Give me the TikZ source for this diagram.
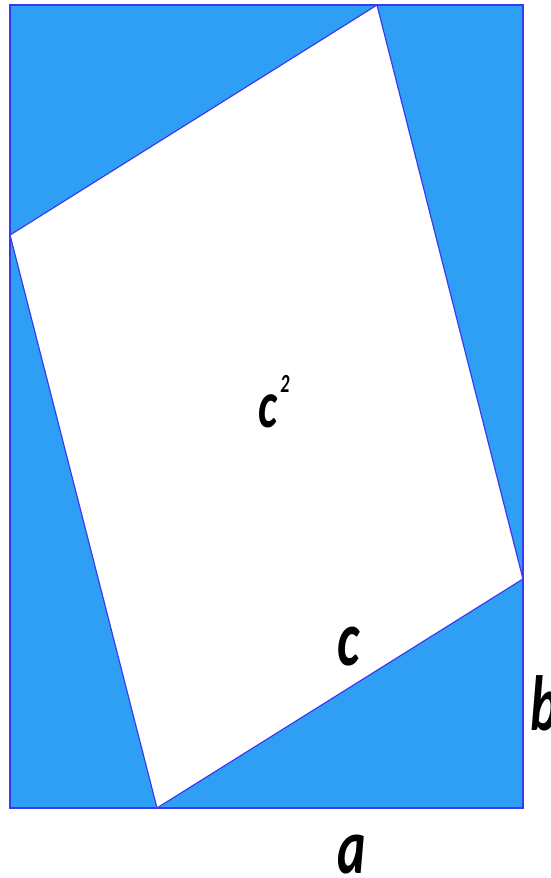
\documentclass[tikz,border=0pt]{standalone}
\usepackage{fontspec}
\usepackage{xcolor}
\newfontfamily\lblfont{Carlito}
\definecolor{sqfill}{HTML}{2E9FF5}
\definecolor{sqline}{HTML}{3A3AF0}
\newcommand{\tall}[1]{\scalebox{1}[1.45]{#1}}

\begin{document}
\begin{tikzpicture}[
    x=1pt, y=-1pt,
    edge/.style={draw=sqline, line width=1.2pt, line join=miter},
    lbl/.style={font=\lblfont\bfseries\itshape\fontsize{54}{54}\selectfont, inner sep=0pt, anchor=base}
]
\useasboundingbox (0,0) rectangle (550,878);

% --- Outer rectangle corners ---
\coordinate (tl) at (10,5);
\coordinate (tr) at (523,5);
\coordinate (br) at (523,808);
\coordinate (bl) at (10,808);

% --- Vertices of the tilted square ---
\coordinate (top) at (377,5);
\coordinate (left) at (10,235);
\coordinate (bot) at (157,808);
\coordinate (right) at (523,579);

% --- Blue corners and white square ---
\fill[sqfill] (tl) -- (tr) -- (br) -- (bl) -- cycle;
\fill[white] (top) -- (right) -- (bot) -- (left) -- cycle;
\draw[edge] (tl) -- (tr) -- (br) -- (bl) -- cycle;
\draw[edge] (top) -- (right) -- (bot) -- (left) -- cycle;

% --- Labels ---
\node[lbl] (csq) at (274,427) {\tall{\fontsize{46}{46}\selectfont c\kern3pt\raisebox{24pt}{\fontsize{18}{18}\selectfont 2}}};
\node[lbl] (clbl) at (349,665) {\tall{c}};
\node[lbl] (blbl) at (545,730) {\tall{b}};
\node[lbl] (albl) at (352,873) {\tall{a}};
\end{tikzpicture}
\end{document}
